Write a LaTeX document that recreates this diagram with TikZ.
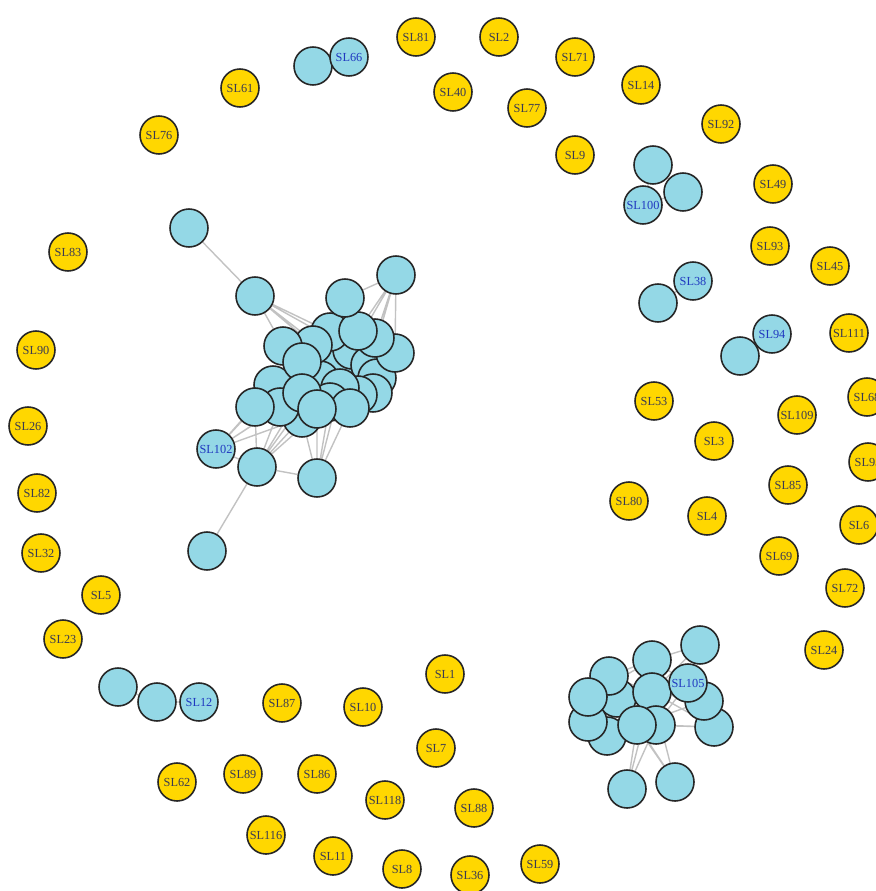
\documentclass[tikz,border=0pt]{standalone}
\usepackage{fontspec}
\setmainfont{Liberation Serif}
\usepackage{xcolor}
\usepackage{tikz}
\usetikzlibrary{backgrounds}

\definecolor{isoyellow}{HTML}{FFD700}
\definecolor{compblue}{HTML}{94D8E6}
\definecolor{labgrey}{HTML}{3A3A52}
\definecolor{labblue}{HTML}{2038C0}
\definecolor{edgegrey}{HTML}{C2C2C2}

\begin{document}
\begin{tikzpicture}[
  x=0.02cm,y=-0.02cm,
  vtx/.style={draw=black!85,circle,line width=0.9pt,minimum size=0.76cm,inner sep=0pt,
    font=\fontsize{7}{8}\selectfont},
  iso/.style={vtx,fill=isoyellow,text=labgrey},
  comp/.style={vtx,fill=compblue,text=labblue},
  link/.style={draw=edgegrey,line width=0.8pt}
]
\useasboundingbox (0,0) rectangle (875,891);

% isolated vertices
\node[iso] (sl81) at (416,37) {SL81};
\node[iso] (sl2) at (499,37) {SL2};
\node[iso] (sl71) at (575,57) {SL71};
\node[iso] (sl14) at (641,85) {SL14};
\node[iso] (sl40) at (453,92) {SL40};
\node[iso] (sl77) at (527,108) {SL77};
\node[iso] (sl9) at (575,155) {SL9};
\node[iso] (sl92) at (721,124) {SL92};
\node[iso] (sl61) at (240,88) {SL61};
\node[iso] (sl76) at (159,135) {SL76};
\node[iso] (sl83) at (68,252) {SL83};
\node[iso] (sl90) at (36,350) {SL90};
\node[iso] (sl26) at (28,426) {SL26};
\node[iso] (sl82) at (37,493) {SL82};
\node[iso] (sl32) at (41,553) {SL32};
\node[iso] (sl5) at (101,595) {SL5};
\node[iso] (sl23) at (63,639) {SL23};
\node[iso] (sl49) at (773,184) {SL49};
\node[iso] (sl93) at (770,246) {SL93};
\node[iso] (sl45) at (830,266) {SL45};
\node[iso] (sl111) at (849,333) {SL111};
\node[iso] (sl68) at (867,397) {SL68};
\node[iso] (sl95) at (868,462) {SL95};
\node[iso] (sl6) at (859,525) {SL6};
\node[iso] (sl53) at (654,401) {SL53};
\node[iso] (sl109) at (797,415) {SL109};
\node[iso] (sl3) at (714,441) {SL3};
\node[iso] (sl85) at (788,485) {SL85};
\node[iso] (sl80) at (629,501) {SL80};
\node[iso] (sl4) at (707,516) {SL4};
\node[iso] (sl69) at (779,556) {SL69};
\node[iso] (sl72) at (845,588) {SL72};
\node[iso] (sl24) at (824,650) {SL24};
\node[iso] (sl1) at (445,674) {SL1};
\node[iso] (sl7) at (436,748) {SL7};
\node[iso] (sl87) at (282,703) {SL87};
\node[iso] (sl10) at (363,707) {SL10};
\node[iso] (sl62) at (177,782) {SL62};
\node[iso] (sl89) at (243,774) {SL89};
\node[iso] (sl86) at (317,774) {SL86};
\node[iso] (sl118) at (385,800) {SL118};
\node[iso] (sl88) at (474,808) {SL88};
\node[iso] (sl116) at (266,835) {SL116};
\node[iso] (sl11) at (333,856) {SL11};
\node[iso] (sl8) at (402,869) {SL8};
\node[iso] (sl36) at (470,875) {SL36};
\node[iso] (sl59) at (540,864) {SL59};

% small components
\node[comp] (p1) at (313,66) {};
\node[comp] (sl66) at (349,57) {SL66};
\node[comp] (t1) at (653,165) {};
\node[comp] (t2) at (683,192) {};
\node[comp] (sl100) at (643,205) {SL100};
\node[comp] (q1) at (658,303) {};
\node[comp] (sl38) at (693,281) {SL38};
\node[comp] (r1) at (740,356) {};
\node[comp] (sl94) at (772,334) {SL94};
\node[comp] (c1) at (118,687) {};
\node[comp] (c2) at (157,702) {};
\node[comp] (sl12) at (199,702) {SL12};

% large component
\node[comp] (a01) at (340,362) {};
\node[comp] (a02) at (352,350) {};
\node[comp] (a03) at (330,332) {};
\node[comp] (a04) at (320,380) {};
\node[comp] (a05) at (370,365) {};
\node[comp] (a06) at (377,378) {};
\node[comp] (a07) at (373,393) {};
\node[comp] (a08) at (358,395) {};
\node[comp] (a09) at (302,418) {};
\node[comp] (a10) at (273,385) {};
\node[comp] (a11) at (280,407) {};
\node[comp] (a12) at (313,345) {};
\node[comp] (a13) at (283,346) {};
\node[comp] (a14) at (395,353) {};
\node[comp] (a15) at (375,338) {};
\node[comp] (a16) at (302,362) {};
\node[comp] (a17) at (340,388) {};
\node[comp] (a18) at (330,402) {};
\node[comp] (a19) at (350,408) {};
\node[comp] (a20) at (302,393) {};
\node[comp] (a21) at (255,407) {};
\node[comp] (a22) at (317,409) {};
\node[comp] (a23) at (358,331) {};
\node[comp] (a24) at (345,298) {};
\node[comp] (a25) at (396,275) {};
\node[comp] (a26) at (255,296) {};
\node[comp] (a27) at (189,228) {};
\node[comp] (sl102) at (216,449) {SL102};
\node[comp] (a28) at (257,467) {};
\node[comp] (a29) at (317,478) {};
\node[comp] (a30) at (207,551) {};

% second component
\node[comp] (b01) at (617,698) {};
\node[comp] (b02) at (609,676) {};
\node[comp] (b03) at (652,660) {};
\node[comp] (b04) at (700,645) {};
\node[comp] (b05) at (607,736) {};
\node[comp] (b06) at (588,722) {};
\node[comp] (b07) at (588,697) {};
\node[comp] (b08) at (652,692) {};
\node[comp] (b09) at (714,727) {};
\node[comp] (b10) at (704,701) {};
\node[comp] (sl105) at (688,683) {SL105};
\node[comp] (b11) at (656,725) {};
\node[comp] (b12) at (637,725) {};
\node[comp] (b13) at (627,789) {};
\node[comp] (b14) at (675,782) {};

\begin{pgfonlayer}{background}
\draw[link] (p1) -- (sl66);
\draw[link] (t1) -- (t2) (t2) -- (sl100) (sl100) -- (t1);
\draw[link] (q1) -- (sl38);
\draw[link] (r1) -- (sl94);
\draw[link] (c1) -- (c2) (c2) -- (sl12);
% large component
\draw[link] (a27) -- (a26);
\draw[link] (a26) -- (a13) (a26) -- (a12) (a26) -- (a03) (a26) -- (a01) (a26) -- (a02);
\draw[link] (a25) -- (a24) (a25) -- (a23) (a25) -- (a15) (a25) -- (a14) (a25) -- (a05) (a25) -- (a02);
\draw[link] (a24) -- (a23) (a24) -- (a12);
\draw[link] (sl102) -- (a28) (sl102) -- (a10) (sl102) -- (a11) (sl102) -- (a21) (sl102) -- (a20) (sl102) -- (a09);
\draw[link] (a28) -- (a29) (a28) -- (a30) (a28) -- (a21) (a28) -- (a11) (a28) -- (a09) (a28) -- (a20) (a28) -- (a18) (a28) -- (a04);
\draw[link] (a29) -- (a09) (a29) -- (a22) (a29) -- (a18) (a29) -- (a19) (a29) -- (a17);
\draw[link] (a10) -- (a16) (a13) -- (a01) (a16) -- (a05) (a20) -- (a06) (a11) -- (a08);
% second component
\draw[link] (b13) -- (b12) (b13) -- (b11) (b13) -- (b08);
\draw[link] (b14) -- (b12) (b14) -- (b08) (b14) -- (b01);
\draw[link] (b04) -- (b03) (b04) -- (b08) (b04) -- (sl105);
\draw[link] (b03) -- (b02) (b03) -- (sl105) (b03) -- (b07);
\draw[link] (b09) -- (b11) (b09) -- (b08) (b09) -- (b12);
\draw[link] (b10) -- (b08) (b10) -- (b12) (sl105) -- (b11);
\draw[link] (b02) -- (b08) (b07) -- (b08) (b06) -- (b11) (b05) -- (b08);
\end{pgfonlayer}
\end{tikzpicture}
\end{document}
